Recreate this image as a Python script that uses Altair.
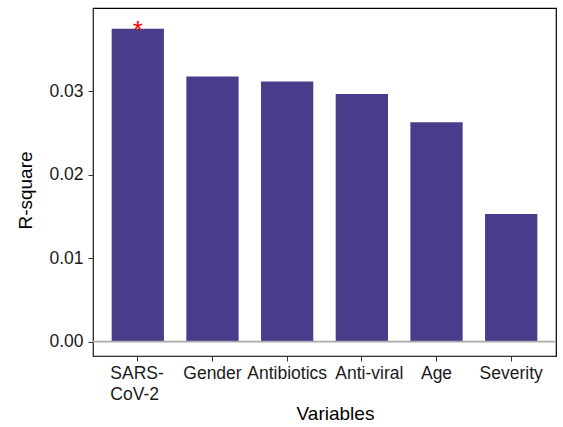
import altair as alt
import pandas as pd

# R-square explained by each variable
variables = ["SARS-CoV-2", "Gender", "Antibiotics", "Anti-viral", "Age", "Severity"]
r_square = [0.0375, 0.0318, 0.0312, 0.0297, 0.0263, 0.0153]
significance = ["*", "", "", "", "", ""]

df = pd.DataFrame({"Variable": variables, "R2": r_square, "sig": significance})

font = "Liberation Sans"
y_scale = alt.Scale(domain=[-0.00172, 0.0400], nice=False, zero=False)
x_scale = alt.Scale(paddingInner=0.3, paddingOuter=0.25)

is_sars = "datum.value == 'SARS-CoV-2'"
is_antiviral = "datum.value == 'Anti-viral'"

x_enc = alt.X(
    "Variable:N",
    sort=variables,
    scale=x_scale,
    axis=alt.Axis(
        title="Variables",
        labelAngle=0,
        labelExpr=f"{is_sars} ? ['SARS-', 'CoV-2'] : datum.value",
        labelAlign={"condition": {"test": is_sars, "value": "left"}, "value": "center"},
        labelOffset={
            "condition": [
                {"test": is_sars, "value": -27.5},
                {"test": is_antiviral, "value": 7.5},
            ],
            "value": 0,
        },
        labelFont=font, labelFontSize=17.5, labelColor="#1a1a1a",
        labelPadding=3, labelLineHeight=21,
        titleFont=font, titleFontSize=19, titleFontWeight="normal", titleColor="#000000",
        titleBaseline="alphabetic", titleX=242, titleY=63,
        tickSize=5, tickColor="#333333", domainColor="#333333",
    ),
)

bars = alt.Chart(df).mark_bar(color="#483D8B").encode(
    x=x_enc,
    y=alt.Y(
        "R2:Q",
        scale=y_scale,
        axis=alt.Axis(
            title="R-square",
            values=[0, 0.01, 0.02, 0.03],
            format=".2f",
            grid=False,
            labelFont=font, labelFontSize=17.5, labelColor="#1a1a1a", labelPadding=5,
            titleFont=font, titleFontSize=19, titleFontWeight="normal", titleColor="#000000",
            titleBaseline="alphabetic", titleX=-62, titleY=182,
            tickSize=5, tickColor="#333333", domainColor="#333333",
        ),
    ),
)

zero_line = alt.Chart(pd.DataFrame({"y": [0]})).mark_rule(
    color="#AAAAAA", strokeWidth=1.6
).encode(y=alt.Y("y:Q", scale=y_scale))

stars = alt.Chart(df).mark_text(
    color="#FF0000", fontSize=26, font=font, baseline="alphabetic", dy=10.5
).encode(
    x=alt.X("Variable:N", sort=variables, scale=x_scale),
    y=alt.Y("R2:Q", scale=y_scale),
    text="sig:N",
)

chart = (
    alt.layer(bars, zero_line, stars)
    .properties(
        width=463,
        height=348,
        autosize=alt.AutoSizeParams(type="none"),
        padding={"left": 93, "top": 8, "right": 7, "bottom": 71},
        background="white",
    )
    .configure_view(stroke="#000000", strokeWidth=1.2)
)

chart.save("out.html", embed_options={"renderer": "svg", "actions": False})
